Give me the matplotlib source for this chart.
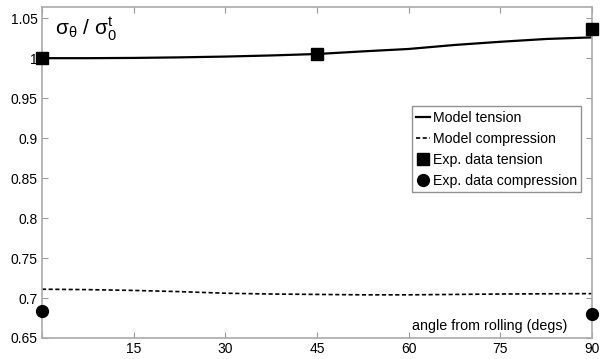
import matplotlib
matplotlib.use("Agg")
from matplotlib import pyplot as plt

plt.rcParams['font.family'] = ['Liberation Sans', 'DejaVu Sans']
plt.rcParams['mathtext.fontset'] = 'custom'
plt.rcParams['mathtext.rm'] = 'Liberation Sans'
plt.rcParams['mathtext.default'] = 'regular'

# Model curves
angle_model = [0, 7.5, 15, 22.5, 30, 37.5, 45, 52.5, 60, 67.5, 75, 82.5, 90]
model_tension = [1.0, 1.0, 1.0003, 1.001, 1.002, 1.0034, 1.0052, 1.0085, 1.0115, 1.0165, 1.0205, 1.0240, 1.026]
model_compression = [0.711, 0.7105, 0.7095, 0.708, 0.706, 0.705, 0.7045, 0.704, 0.704, 0.7045, 0.705, 0.7053, 0.7055]

# Experimental points
angle_exp_t = [0, 45, 90]
exp_tension = [1.0, 1.0054, 1.0365]
angle_exp_c = [0, 90]
exp_compression = [0.684, 0.6796]

x_ticks = [0, 15, 30, 45, 60, 75, 90]
x_tick_labels = ['', '15', '30', '45', '60', '75', '90']
y_ticks = [0.65, 0.7, 0.75, 0.8, 0.85, 0.9, 0.95, 1.0, 1.05]
y_tick_labels = ['0.65', '0.7', '0.75', '0.8', '0.85', '0.9', '0.95', '1', '1.05']

fig = plt.figure(figsize=(6.08, 3.59), dpi=100)
ax = fig.add_axes([0.069, 0.0585, 0.9047, 0.922])

ax.plot(angle_model, model_tension, '-', color='black', lw=1.6, label='Model tension')
ax.plot(angle_model, model_compression, '--', color='black', lw=1.2, dashes=(2.5, 1.5),
        label='Model compression')
ax.plot(angle_exp_t, exp_tension, 's', color='black', ms=8, clip_on=False, zorder=5,
        label='Exp. data tension')
ax.plot(angle_exp_c, exp_compression, 'o', color='black', ms=8.5, clip_on=False, zorder=5,
        label='Exp. data compression')

ax.set_xlim(0, 90)
ax.set_ylim(0.65, 1.064)
ax.set_xticks(x_ticks)
ax.set_xticklabels(x_tick_labels)
ax.set_yticks(y_ticks)
ax.set_yticklabels(y_tick_labels)
ax.tick_params(direction='in', length=4, width=0.8, color='#999999', labelsize=10,
               top=True, right=True, pad=3)
for s in ax.spines.values():
    s.set_color('#aaaaaa')
    s.set_linewidth(1.2)

# Labels placed inside the axes
fig.text(55 / 608, 1 - 28 / 359, r'$\sigma_{\theta}$ / $\sigma_{0}^{t}$', fontsize=15,
         ha='left', va='center')
ax.text(0.955, 0.035, 'angle from rolling (degs)', transform=ax.transAxes,
        fontsize=10.3, ha='right', va='center')

leg = ax.legend(loc='upper left', bbox_to_anchor=(0.672, 0.70), fontsize=10.2,
                frameon=True, fancybox=False, edgecolor='#777777', handlelength=1.0,
                handletextpad=0.2, borderpad=0.3, labelspacing=0.5, borderaxespad=0)
leg.get_frame().set_linewidth(1.0)

plt.savefig('out.png', dpi=100)
plt.close()
